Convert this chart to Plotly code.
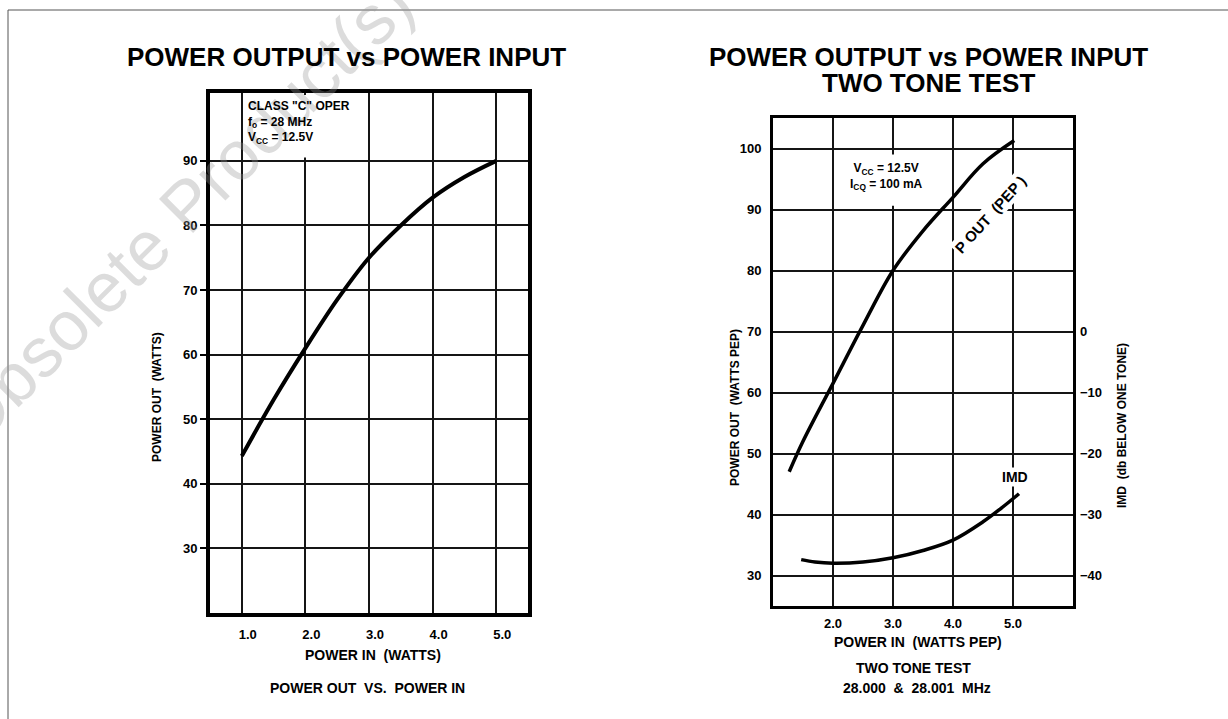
import plotly.graph_objects as go

W, H = 1228, 719

# ---------------- data ----------------
left_pin = [1.0, 1.5, 2.0, 2.5, 3.0, 3.5, 4.0, 4.5, 5.0]
left_pout = [44.3, 53.0, 61.0, 68.5, 75.0, 80.0, 84.3, 87.5, 90.0]

right_pin = [1.27, 1.5, 2.0, 2.5, 3.0, 3.5, 4.0, 4.5, 5.02]
right_pout = [47.0, 52.0, 61.5, 71.0, 80.0, 86.5, 92.0, 97.5, 101.3]

imd_pin = [1.47, 1.7, 2.0, 2.5, 3.0, 3.5, 4.0, 4.5, 4.8, 5.1]
imd_db = [-37.4, -37.8, -38.0, -37.8, -37.1, -35.9, -34.2, -31.2, -29.0, -26.6]

left_xticks = [1.0, 2.0, 3.0, 4.0, 5.0]
left_xlabels = ["1.0", "2.0", "3.0", "4.0", "5.0"]
left_yticks = [30, 40, 50, 60, 70, 80, 90]
right_xticks = [2.0, 3.0, 4.0, 5.0]
right_xlabels = ["2.0", "3.0", "4.0", "5.0"]
right_yticks = [30, 40, 50, 60, 70, 80, 90, 100]
imd_ticks = [0, -10, -20, -30, -40]
imd_labels = ["0", "\u221210", "\u221220", "\u221230", "\u221240"]

FONT = "Liberation Sans, Arial, sans-serif"


def px(x):
    return x / W


def py(y):
    return 1 - y / H


fig = go.Figure()
fig.add_trace(go.Scatter(x=left_pin, y=left_pout, mode="lines",
                         line=dict(color="black", width=4, shape="spline"),
                         xaxis="x", yaxis="y", showlegend=False, hoverinfo="skip"))
fig.add_trace(go.Scatter(x=right_pin, y=right_pout, mode="lines",
                         line=dict(color="black", width=3.5, shape="spline"),
                         xaxis="x2", yaxis="y2", showlegend=False, hoverinfo="skip"))
fig.add_trace(go.Scatter(x=imd_pin, y=imd_db, mode="lines",
                         line=dict(color="black", width=3.5, shape="spline"),
                         xaxis="x2", yaxis="y3", showlegend=False, hoverinfo="skip"))

tickfont = dict(family=FONT, size=13, color="black", weight="bold")
grid = dict(showgrid=True, gridcolor="#151515", gridwidth=1.8, zeroline=False,
            showline=True, linecolor="black", mirror=True, fixedrange=True)

fig.update_layout(
    width=W, height=H,
    margin=dict(l=0, r=0, t=0, b=0),
    paper_bgcolor="white", plot_bgcolor="white",
    showlegend=False,
    xaxis=dict(domain=[px(210), px(528)], range=[0.5, 5.5], tickvals=left_xticks,
               ticktext=left_xlabels, ticks="", tickfont=tickfont, linewidth=3.8,
               anchor="y", ticklabelshift=6, ticklabelstandoff=6, **grid),
    yaxis=dict(domain=[py(613), py(93)], range=[20, 100.5], tickvals=left_yticks,
               ticks="outside", ticklen=6, tickwidth=2, tickcolor="black",
               tickfont=tickfont, linewidth=3.8, anchor="x", ticklabelstandoff=0, **grid),
    xaxis2=dict(domain=[px(773), px(1073)], range=[1.0, 6.0], tickvals=right_xticks,
                ticktext=right_xlabels, ticks="", tickfont=tickfont, linewidth=2.8,
                anchor="y2", ticklabelstandoff=3, **grid),
    yaxis2=dict(domain=[py(606), py(118)], range=[25, 105], tickvals=right_yticks,
                ticks="", tickfont=tickfont, linewidth=2.8, anchor="x2",
                ticklabelstandoff=6, **grid),
    yaxis3=dict(overlaying="y2", anchor="x2", side="right", range=[-45, 35],
                tickvals=imd_ticks, ticktext=imd_labels, ticks="", showgrid=False,
                zeroline=False, showline=False, tickfont=tickfont,
                ticklabelstandoff=6, fixedrange=True),
)

shapes = [
    # partial outer frame of the page
    dict(type="line", xref="paper", yref="paper", x0=px(8), x1=px(1228), y0=py(10), y1=py(10),
         line=dict(color="#555", width=1)),
    dict(type="line", xref="paper", yref="paper", x0=px(8), x1=px(8), y0=py(10), y1=py(719),
         line=dict(color="#555", width=1)),
    # white boxes behind the condition notes
    dict(type="rect", xref="x", yref="y", x0=1.06, x1=2.95, y0=90.5, y1=100.2,
         fillcolor="white", line=dict(width=0), layer="between"),
    dict(type="rect", xref="x2", yref="y2", x0=2.06, x1=3.55, y0=90.6, y1=99.0,
         fillcolor="white", line=dict(width=0), layer="between"),
]
fig.update_layout(shapes=shapes)

ann = []


def text(x, y, s, size=13, bold=True, angle=0, xanchor="center", yanchor="middle",
         align="center", bg=None, color="black"):
    d = dict(x=px(x), y=py(y), xref="paper", yref="paper", text=s, showarrow=False,
             font=dict(family=FONT, size=size, color=color, weight="bold" if bold else "normal"),
             textangle=angle, xanchor=xanchor, yanchor=yanchor, align=align)
    if bg:
        d["bgcolor"] = bg
    ann.append(d)


# watermark (drawn first, under other annotations)
text(180, 212, "Obsolete Product(s)", size=70, bold=False, angle=-45,
     color="rgba(150,150,150,0.33)")

# titles
text(346, 57, "POWER OUTPUT vs POWER INPUT", size=26)
text(928, 57, "POWER OUTPUT vs POWER INPUT", size=26)
text(928, 83, "TWO TONE TEST", size=26)

# left chart labels
text(157, 397, "POWER OUT  (WATTS)", size=12, angle=-90)
text(373, 655, "POWER IN  (WATTS)", size=14)
text(367, 688, "POWER OUT  VS.  POWER IN", size=14)
text(246, 97, "CLASS \"C\" OPER<br>f<sub>o</sub> = 28 MHz<br>V<sub>CC</sub> = 12.5V",
     size=12, xanchor="left", yanchor="top", align="left")

# right chart labels
text(735, 408, "POWER OUT  (WATTS PEP)", size=12, angle=-90)
text(1122, 426, "IMD  (db BELOW ONE TONE)", size=12, angle=-90)
text(918, 642, "POWER IN  (WATTS PEP)", size=14)
text(913, 668, "TWO TONE TEST", size=14)
text(917, 688, "28.000  &  28.001  MHz", size=14)
text(886, 177, "V<sub>CC</sub> = 12.5V<br>I<sub>CQ</sub> = 100 mA", size=12)
text(990, 214, "P OUT  (PEP )", size=15, angle=-48, bg="white")
text(1015, 477, "IMD", size=14, bg="white")

fig.update_layout(annotations=ann)

fig.write_html("out.html",
               config={"displayModeBar": False},
               post_script="document.body.style.margin='0px';"
                           "document.body.style.overflow='hidden';")
